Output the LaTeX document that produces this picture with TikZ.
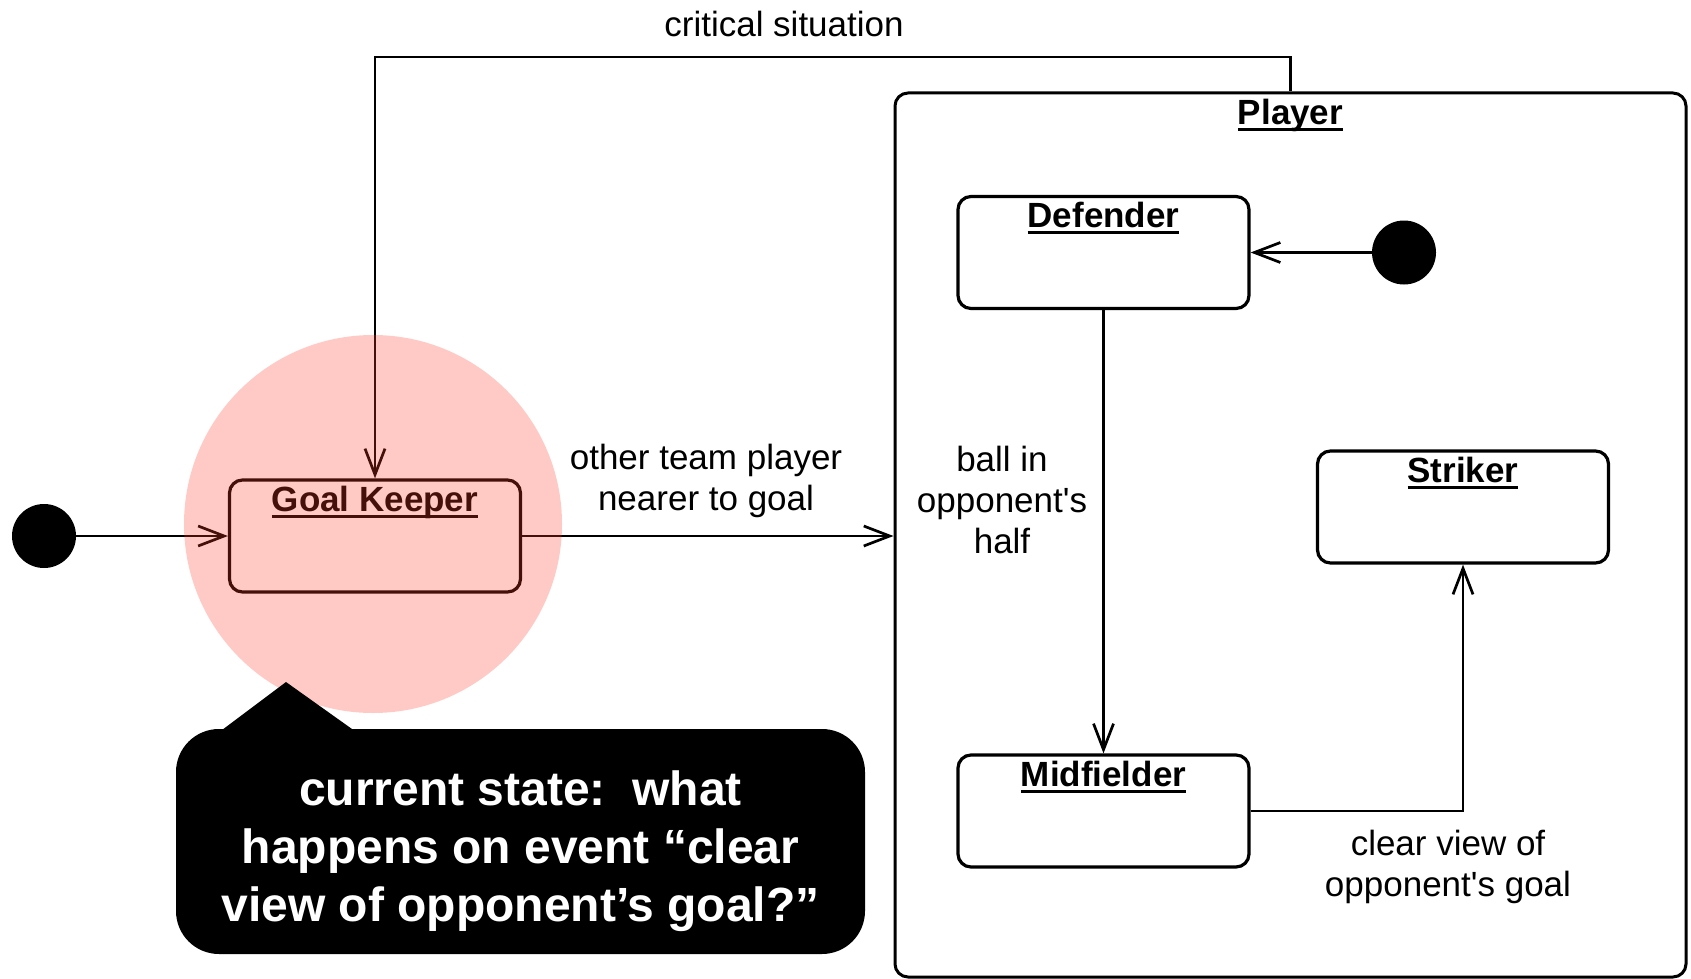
\documentclass[tikz,border=0pt]{standalone}
\usepackage{fontspec}
\setmainfont{Liberation Sans}[Ligatures=TeXOff]
\usetikzlibrary{arrows.meta}
\definecolor{hlcolor}{RGB}{255,60,40}
\newcommand\myul[1]{\setbox0=\hbox{#1}\rlap{\copy0}\rule[-6.5pt]{\wd0}{3pt}}
\tikzset{
  state/.style={draw, rounded corners=13pt, line width=3.2pt, minimum width=291pt, minimum height=112pt, inner sep=0pt, fill=white},
  container/.style={draw, rounded corners=13pt, line width=3pt, minimum width=791pt, minimum height=884pt, inner sep=0pt},
  titletext/.style={font=\fontsize{35}{41}\selectfont\bfseries, anchor=base, inner sep=0pt},
  lbl/.style={font=\fontsize{35}{41}\selectfont, align=center, inner sep=0pt},
  initdot/.style={circle, fill=black, minimum size=64pt, inner sep=0pt},
  conn/.style={line width=2.7pt, -{Straight Barb[length=26pt,width=20pt]}}
}
\begin{document}
\begin{tikzpicture}[x=1pt,y=-1pt]
\useasboundingbox (0,0) rectangle (1691,979);

% container
\node[container] (player) at (1290.5,535) {};
\node[titletext] (playert) at ([yshift=-33pt]player.north) {\myul{Player}};

% states
\node[state] (gk) at (375,536) {};
\node[titletext] (gkt) at ([yshift=-33pt]gk.north) {\myul{Goal Keeper}};
\node[state] (def) at (1103.5,252.5) {};
\node[titletext] (deft) at ([yshift=-33pt]def.north) {\myul{Defender}};
\node[state] (mid) at (1103.5,811) {};
\node[titletext] (midt) at ([yshift=-33pt]mid.north) {\myul{Midfielder}};
\node[state] (str) at (1463,507) {};
\node[titletext] (strt) at ([yshift=-33pt]str.north) {\myul{Striker}};

% initial pseudo-states
\node[initdot] (init1) at (44,536) {};
\node[initdot] (init2) at (1404,252.5) {};

% transitions
\coordinate (crit) at (1290.5,57);
\draw[conn] (init1) -- (gk.west);
\draw[conn] (gk.east) -- (gk.east -| player.west);
\draw[conn] (player.north) -- (crit) -| (gk.north);
\draw[conn] (init2) -- (def.east);
\draw[conn] (def.south) -- (mid.north);
\draw[conn] (mid.east) -| (str.south);

% labels
\node[lbl] (lcrit) at (784,24) {critical situation};
\node[lbl] (lother) at (706,481) {other team player\\nearer to goal};
\node[lbl] (lball) at (1002,500) {ball in\\opponent's\\half};
\node[lbl] (lclear) at (1448,867) {clear view of\\opponent's goal};

% highlight overlay
\fill[hlcolor, fill opacity=0.27] (373,524) circle (189pt);

% callout
\node[fill=black, rounded corners=43pt, minimum width=689pt, minimum height=225pt, inner sep=0pt] (callout) at (520.5,841.5) {};
\fill[black] (214,736) -- (286,682) -- (352,729) -- cycle;
\node[text=white, align=center, inner sep=0pt, font=\fontsize{48}{58}\selectfont\bfseries] (callouttext) at (520.5,851)
  {current state:\ \ what\\happens on event “clear\\view of opponent’s goal?”};
\end{tikzpicture}
\end{document}
